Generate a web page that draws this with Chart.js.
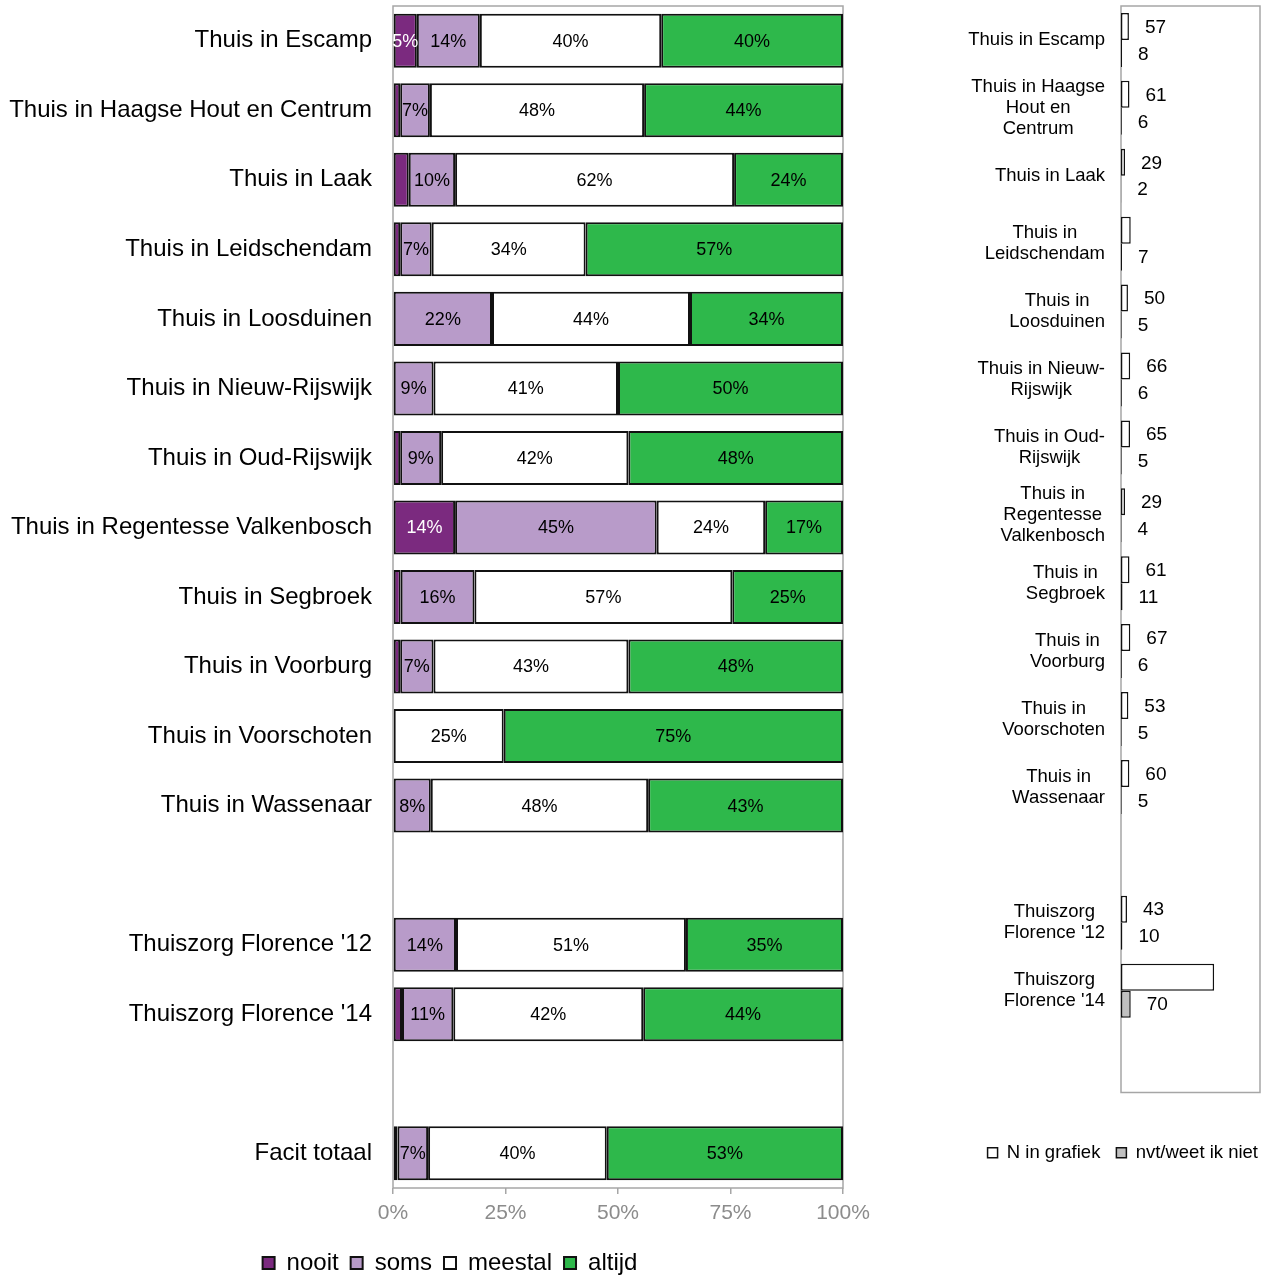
<!DOCTYPE html>
<html><head><meta charset="utf-8">
<script src="https://cdn.jsdelivr.net/npm/chart.js@4.4.1/dist/chart.umd.min.js"></script>
<style>
html,body{margin:0;padding:0;background:#fff;overflow:hidden;width:1261px;height:1276px}
canvas{position:absolute;top:0}
</style></head>
<body>
<canvas id="left" width="900" height="1285" style="left:0px"></canvas>
<canvas id="right" width="334" height="1276" style="left:940px"></canvas>
<script>
// ---------- data: left chart ----------
const categories = ['Thuis in Escamp','Thuis in Haagse Hout en Centrum','Thuis in Laak','Thuis in Leidschendam','Thuis in Loosduinen','Thuis in Nieuw-Rijswijk','Thuis in Oud-Rijswijk','Thuis in Regentesse Valkenbosch','Thuis in Segbroek','Thuis in Voorburg','Thuis in Voorschoten','Thuis in Wassenaar','',"Thuiszorg Florence '12","Thuiszorg Florence '14",'','Facit totaal'];
const nooit   = [5.3, 1.6, 3.5, 1.6, null, null, 1.6, 13.8, 1.7, 1.6, null, null, null, null, 2.0, null, 1.0];
const soms    = [14.0, 6.6, 10.3, 7.0, 22.0, 9.0, 9.1, 44.8, 16.4, 7.4, null, 8.4, null, 14.0, 11.4, null, 6.8];
const meestal = [40.3, 47.6, 62.0, 34.2, 44.0, 41.0, 41.6, 24.1, 57.3, 43.3, 24.6, 48.3, null, 51.1, 42.2, null, 39.7];
const altijd  = [40.4, 44.2, 24.2, 57.2, 34.0, 50.0, 47.7, 17.3, 24.6, 47.7, 75.4, 43.3, null, 34.9, 44.4, null, 52.5];
const xTicks  = [0, 25, 50, 75, 100];

// ---------- data: right chart ----------
const rightCategories = [
  ['Thuis in Escamp'], ['Thuis in Haagse','Hout en','Centrum'], ['Thuis in Laak'], ['Thuis in','Leidschendam'],
  ['Thuis in','Loosduinen'], ['Thuis in Nieuw-','Rijswijk'], ['Thuis in Oud-','Rijswijk'], ['Thuis in','Regentesse','Valkenbosch'],
  ['Thuis in','Segbroek'], ['Thuis in','Voorburg'], ['Thuis in','Voorschoten'], ['Thuis in','Wassenaar'], [''],
  ['Thuiszorg',"Florence '12"], ['Thuiszorg',"Florence '14"], ['']
];
const nInGrafiek = [57, 61, 29, 70, 50, 66, 65, 29, 61, 67, 53, 60, null, 43, 670, null];
const nShown     = [true, true, true, false, true, true, true, true, true, true, true, true, false, true, false, false];
const nvtWeet    = [8, 6, 2, 7, 5, 6, 5, 4, 11, 6, 5, 5, null, 10, 70, null];

const FONT = '"Liberation Sans", Arial, Helvetica, sans-serif';
Chart.defaults.font.family = FONT;
Chart.defaults.color = '#000';
const GRAY = '#a6a6a6';

const framePlugin = {
  id: 'frame',
  beforeDatasetsDraw(chart) {
    const {left, top, right, bottom} = chart.chartArea;
    const ctx = chart.ctx;
    ctx.save();
    ctx.strokeStyle = GRAY; ctx.lineWidth = 1.5;
    ctx.strokeRect(left, top, right - left, bottom - top);
    ctx.restore();
  }
};

const segLabels = {
  id: 'segLabels',
  afterDatasetsDraw(chart) {
    const ctx = chart.ctx;
    ctx.save();
    ctx.font = '18px ' + FONT;
    ctx.textAlign = 'center'; ctx.textBaseline = 'middle';
    chart.data.datasets.forEach((ds, di) => {
      const meta = chart.getDatasetMeta(di);
      meta.data.forEach((el, i) => {
        const v = ds.data[i];
        if (v == null || v < 4) return;
        const c = el.getCenterPoint();
        ctx.fillStyle = ds.labelColor;
        ctx.fillText(Math.round(v) + '%', c.x, c.y + 1);
      });
    });
    ctx.restore();
  }
};

const BORDER = '#111111';
function ds(label, data, bg, labelColor) {
  return {label, data, backgroundColor: bg, borderColor: BORDER, borderWidth: 2, borderSkipped: false,
          categoryPercentage: 1, barPercentage: 0.777, labelColor, xAxisID: 'x', yAxisID: 'y'};
}

new Chart(document.getElementById('left'), {
  type: 'bar',
  data: {
    labels: categories,
    datasets: [
      ds('nooit', nooit, '#7b2a7f', '#fff'),
      ds('soms', soms, '#b89bc9', '#000'),
      ds('meestal', meestal, '#ffffff', '#000'),
      ds('altijd', altijd, '#2eb84b', '#000')
    ]
  },
  options: {
    indexAxis: 'y', responsive: false, animation: false,
    layout: {padding: {top: 6, right: 0, left: 0, bottom: 0}},
    scales: {
      x: {
        stacked: true, min: 0, max: 100,
        afterBuildTicks: s => { s.ticks = xTicks.map(v => ({value: v})); },
        ticks: {callback: v => v + '%', color: '#8c8c8c', font: {size: 21}, padding: 7, maxRotation: 0},
        grid: {drawOnChartArea: false, drawTicks: true, tickLength: 6, color: GRAY, lineWidth: 1.5},
        border: {display: false},
        afterFit: s => { s.height = 51; }
      },
      y: {
        stacked: true,
        ticks: {font: {size: 24, lineHeight: 0.5}, color: '#000', padding: 0, autoSkip: false},
        grid: {display: true, drawOnChartArea: false, drawTicks: true, tickLength: 21, color: 'rgba(0,0,0,0)'},
        border: {display: false},
        afterFit: s => { s.width = 393; }
      },
      yPad: {
        type: 'linear', axis: 'y', position: 'right', display: true,
        ticks: {display: false}, grid: {display: false}, border: {display: false},
        afterFit: s => { s.width = 57; }
      }
    },
    plugins: {
      legend: {
        position: 'bottom',
        labels: {boxWidth: 12, boxHeight: 12, font: {size: 24}, color: '#000', padding: 12}
      },
      tooltip: {enabled: false}
    }
  },
  plugins: [framePlugin, segLabels]
});

// ---------- right chart ----------
const rightLabels = {
  id: 'rightLabels',
  afterDraw(chart) {
    const ctx = chart.ctx;
    const ys = chart.scales.y;
    const rightEdge = chart.chartArea.left - 16;
    ctx.save();
    ctx.font = '18.5px ' + FONT;
    ctx.fillStyle = '#000';
    ctx.textAlign = 'center'; ctx.textBaseline = 'middle';
    rightCategories.forEach((lines, i) => {
      const cy = ys.getPixelForValue(i);
      const w = Math.max(...lines.map(l => ctx.measureText(l).width));
      const cx = rightEdge - w / 2;
      lines.forEach((l, j) => {
        ctx.fillText(l, cx, cy + (j - (lines.length - 1) / 2) * 21);
      });
    });
    // value labels
    ctx.font = '19px ' + FONT;
    ctx.textAlign = 'left';
    chart.data.datasets.forEach((d, di) => {
      const meta = chart.getDatasetMeta(di);
      meta.data.forEach((el, i) => {
        const v = d.data[i];
        if (v == null) return;
        if (di === 0 && !nShown[i]) return;
        ctx.fillText(String(v), el.x + 16, el.y + 1);
      });
    });
    ctx.restore();
  }
};

new Chart(document.getElementById('right'), {
  type: 'bar',
  data: {
    labels: rightCategories.map(l => l.join(' ')),
    datasets: [
      {label: 'N in grafiek', data: nInGrafiek, backgroundColor: '#ffffff', borderColor: BORDER, borderWidth: 1.5,
       borderSkipped: false, categoryPercentage: 0.795, barPercentage: 1, xAxisID: 'x', yAxisID: 'y'},
      {label: 'nvt/weet ik niet', data: nvtWeet, backgroundColor: '#c0c0c0', borderColor: BORDER, borderWidth: 1.5,
       borderSkipped: false, categoryPercentage: 0.795, barPercentage: 1, xAxisID: 'x', yAxisID: 'y'}
    ]
  },
  options: {
    indexAxis: 'y', responsive: false, animation: false,
    layout: {padding: {top: 6, right: 0, left: 0, bottom: 104}},
    scales: {
      x: {
        min: 0, max: 1000,
        ticks: {display: false}, grid: {display: false}, border: {display: false},
        afterFit: s => { s.height = 35; }
      },
      y: {
        display: true,
        ticks: {display: false}, grid: {display: false}, border: {display: false},
        afterFit: s => { s.width = 181; }
      },
      yPad: {
        type: 'linear', axis: 'y', position: 'right', display: true,
        ticks: {display: false}, grid: {display: false}, border: {display: false},
        afterFit: s => { s.width = 14; }
      }
    },
    plugins: {
      legend: {
        position: 'bottom', align: 'end',
        labels: {boxWidth: 10, boxHeight: 10, font: {size: 18.5}, color: '#000', padding: 16}
      },
      tooltip: {enabled: false}
    }
  },
  plugins: [framePlugin, rightLabels]
});
</script>
</body></html>
